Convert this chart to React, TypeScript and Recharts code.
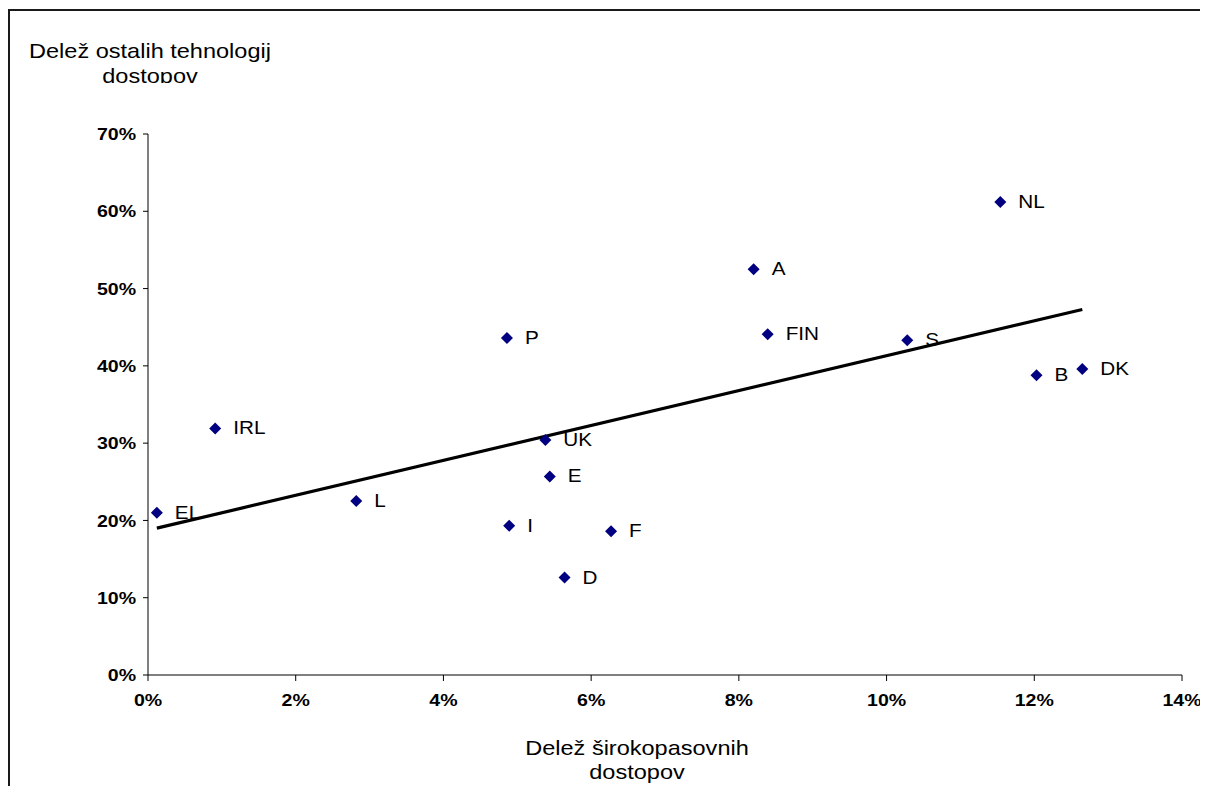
import React from 'react'
import { ScatterChart, Scatter, XAxis, YAxis, ReferenceLine } from 'recharts'

// Share of broadband access (x, %) vs. share of other access technologies (y, %)
const countries = ['EL', 'IRL', 'L', 'I', 'UK', 'E', 'D', 'P', 'F', 'A', 'FIN', 'S', 'NL', 'B', 'DK']
const broadband = [0.12, 0.91, 2.82, 4.89, 5.38, 5.44, 5.64, 4.86, 6.27, 8.2, 8.39, 10.28, 11.54, 12.03, 12.65]
const otherTech = [21.0, 31.9, 22.5, 19.3, 30.4, 25.7, 12.6, 43.6, 18.6, 52.5, 44.1, 43.3, 61.2, 38.8, 39.6]

// linear trend endpoints
const trendX = [0.12, 12.65]
const trendY = [19.0, 47.3]

const xTicks = [0, 2, 4, 6, 8, 10, 12, 14]
const yTicks = [0, 10, 20, 30, 40, 50, 60, 70]

const FONT = '"Liberation Sans", Arial, sans-serif'
const NAVY = '#000080'

const points = countries.map((name, i) => ({ name, x: broadband[i], y: otherTech[i] }))

const XTick = (props: any) => {
  const { x, y, payload } = props
  return (
    <text transform={`translate(${x},${y}) scale(1.15,1)`} textAnchor="middle" dy="0.72em"
      fontFamily={FONT} fontSize={17} fontWeight="bold" fill="#000">
      {`${payload.value}%`}
    </text>
  )
}

const YTick = (props: any) => {
  const { x, y, payload } = props
  return (
    <text transform={`translate(${x},${y}) scale(1.15,1)`} textAnchor="end" dy="0.36em"
      fontFamily={FONT} fontSize={17} fontWeight="bold" fill="#000">
      {`${payload.value}%`}
    </text>
  )
}

// diamond marker plus country code to its right
const Marker = (props: any) => {
  const { cx, cy, payload } = props
  if (cx == null || cy == null) return null
  const r = 6
  return (
    <g>
      <polygon points={`${cx},${cy - r} ${cx + r},${cy} ${cx},${cy + r} ${cx - r},${cy}`} fill={NAVY} />
      <text transform={`translate(${cx + 18},${cy + 6}) scale(1.15,1)`} fontFamily={FONT} fontSize={18} fill="#000">
        {payload.name}
      </text>
    </g>
  )
}

const titleStyle: React.CSSProperties = {
  position: 'absolute',
  fontFamily: FONT,
  fontSize: 21,
  color: '#000',
  textAlign: 'center',
  whiteSpace: 'nowrap',
  transform: 'scaleX(1.12)',
}

export default function App() {
  return (
    <div style={{ position: 'relative', width: 1208, height: 794, overflow: 'hidden', background: '#fff', margin: -8 }}>
      <style>{'html, body { overflow: hidden; }'}</style>
      <div style={{ position: 'absolute', left: 8, top: 8, width: 1200, height: 786 }}>
        {/* frame */}
        <div style={{ position: 'absolute', left: 0, top: 1, width: 1400, height: 900, borderLeft: '2px solid #1a1a1a', borderTop: '2px solid #1a1a1a' }} />

        <ScatterChart width={1200} height={786} margin={{ top: 126, right: 26, bottom: 79, left: 0 }}>
          <XAxis type="number" dataKey="x" domain={[0, 14]} ticks={xTicks} interval={0}
            height={40} tickSize={6} tickMargin={13} stroke="#000" tick={<XTick />} />
          <YAxis type="number" dataKey="y" domain={[0, 70]} ticks={yTicks} interval={0}
            width={140} tickSize={5} tickMargin={7} stroke="#000" tick={<YTick />} />
          <ReferenceLine
            segment={[{ x: trendX[0], y: trendY[0] }, { x: trendX[1], y: trendY[1] }]}
            stroke="#000" strokeWidth={3.2} ifOverflow="visible" />
          <Scatter data={points} shape={<Marker />} isAnimationActive={false} />
        </ScatterChart>

        {/* y axis title, second line is cut by its box */}
        <div style={{ position: 'absolute', left: 2, top: 30, width: 280, height: 45, overflow: 'hidden' }}>
          <div style={{ ...titleStyle, position: 'relative', lineHeight: '25px', width: 280 }}>
            Delež ostalih tehnologij<br />dostopov
          </div>
        </div>

        {/* x axis title */}
        <div style={{ ...titleStyle, left: 529, top: 728, width: 200, lineHeight: '24px' }}>
          Delež širokopasovnih<br />dostopov
        </div>
      </div>
    </div>
  )
}
